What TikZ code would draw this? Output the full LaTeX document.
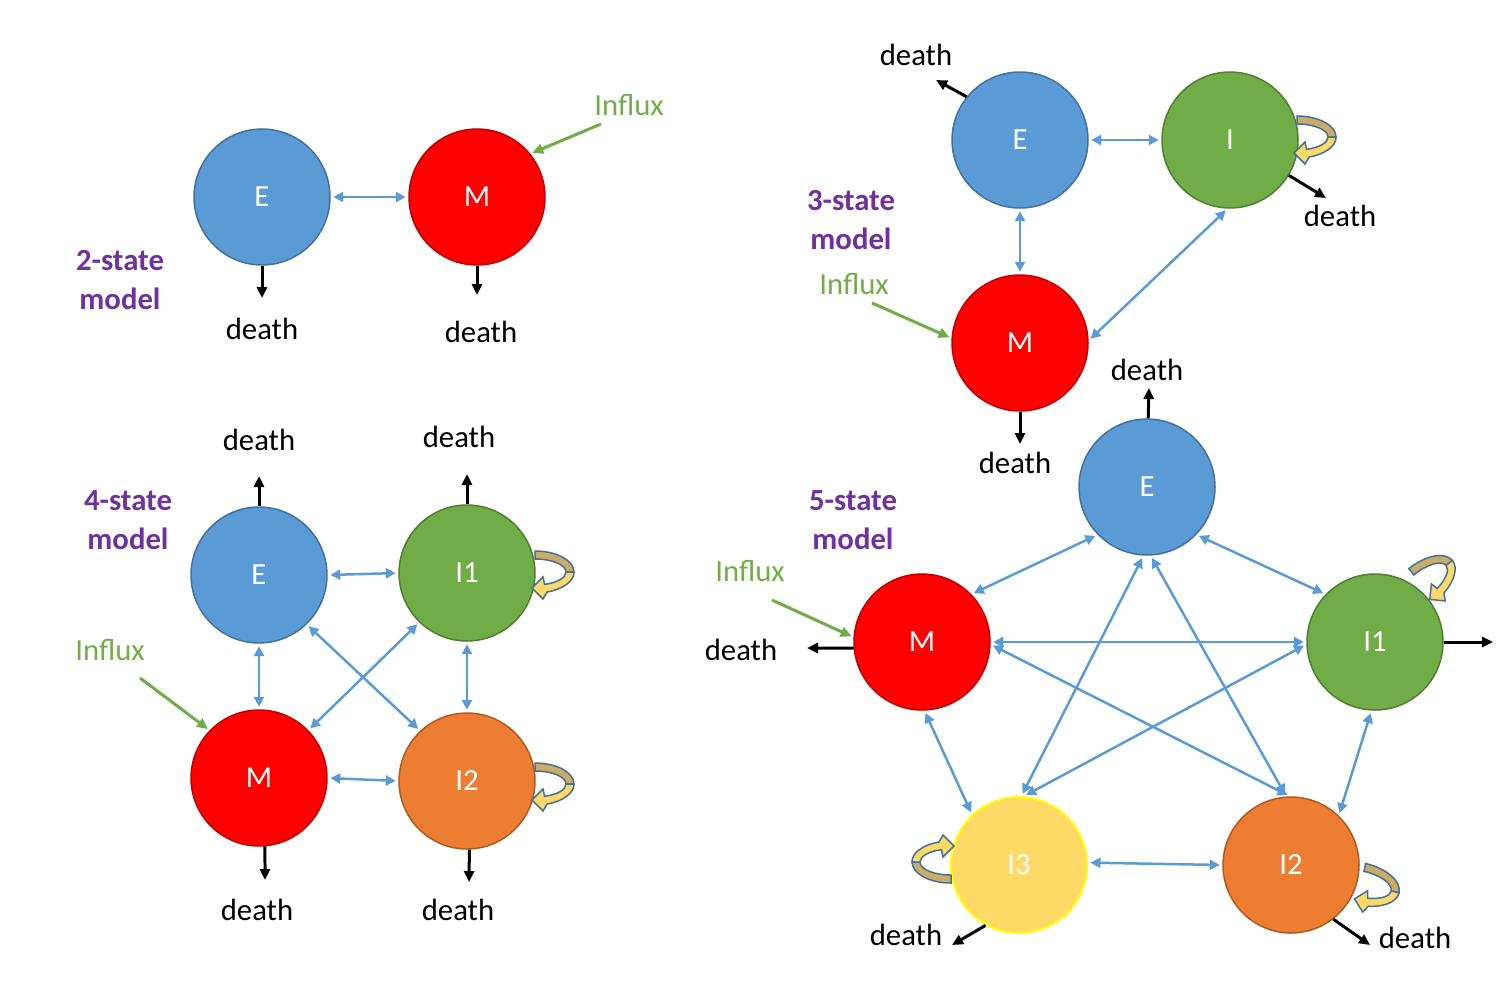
\documentclass[tikz,border=0pt]{standalone}
\usepackage{fontspec}
\setmainfont{Carlito}
\usepackage{tikz}
\usetikzlibrary{arrows.meta,positioning}

\definecolor{eblue}{HTML}{5B9BD5}
\definecolor{eblueline}{HTML}{41719C}
\definecolor{mred}{HTML}{FF0000}
\definecolor{mredline}{HTML}{C00000}
\definecolor{igreen}{HTML}{70AD47}
\definecolor{igreenline}{HTML}{507E32}
\definecolor{iorange}{HTML}{ED7D31}
\definecolor{iorangeline}{HTML}{AE5A21}
\definecolor{iyellow}{HTML}{FFD966}
\definecolor{iyellowline}{HTML}{FFFF00}
\definecolor{modelpurple}{HTML}{7030A0}
\definecolor{looptan}{HTML}{CCAB66}

\tikzset{
  state/.style={circle, minimum size=2.72cm, inner sep=0pt, line width=0.03cm, text=white, font=\fontsize{17.5pt}{22pt}\selectfont},
  txt/.style={font=\fontsize{17.5pt}{22pt}\selectfont, inner sep=0pt},
  modeltxt/.style={txt, font=\fontsize{17.5pt}{22pt}\selectfont\bfseries, text=modelpurple, align=center},
  twoway/.style={{Triangle[length=0.2cm,width=0.2cm]}-{Triangle[length=0.2cm,width=0.2cm]}, eblue, line width=0.05cm, shorten <=0.05cm, shorten >=0.05cm},
  dies/.style={-{Triangle[length=0.22cm,width=0.2cm]}, black, line width=0.06cm},
  inflow/.style={-{Triangle[length=0.22cm,width=0.2cm]}, igreen, line width=0.06cm, shorten >=0.04cm}
}

\newcommand{\turnarrow}[2]{%
  \begin{scope}[shift={(#1)}, rotate=#2, eblueline, line width=0.03cm]
    \filldraw[fill=looptan] (0,-13) arc[start angle=-90, end angle=0, x radius=31, y radius=13]
      -- (39,0) arc[start angle=0, end angle=-90, x radius=39, y radius=21] -- cycle;
    \filldraw[fill=iyellow] (31,0) arc[start angle=0, end angle=72, x radius=31, y radius=13]
      -- (8,5) -- (-3,16) -- (8,27) -- (12.1,20) arc[start angle=72, end angle=0, x radius=39, y radius=21] -- cycle;
  \end{scope}}

\begin{document}
\begin{tikzpicture}[x=0.02cm, y=-0.02cm]
  \useasboundingbox (0,0) rectangle (1506,998);

  \node[state, fill=eblue, draw=eblueline] (tE) at (262,197) {E};
  \node[state, fill=mred, draw=mredline] (tM) at (477,197) {M};
  \draw[twoway] (tE.0) -- (tM.180);
  \coordinate (tEd) at (262,298);
  \coordinate (tMd) at (477,295);
  \draw[dies] (tE.270) -- (tEd);
  \draw[dies] (tM.270) -- (tMd);
  \node[txt] (tEdl) at (262,329) {death};
  \node[txt] (tMdl) at (481,332) {death};
  \node[txt, text=igreen] (tIn) at (629,105) {Influx};
  \coordinate (tInS) at (601,124);
  \draw[inflow] (tInS) -- (tM.39);
  \node[modeltxt] (tLab) at (120,280) {2-state\\model};

  \node[state, fill=eblue, draw=eblueline] (hE) at (1020,140) {E};
  \node[state, fill=igreen, draw=igreenline] (hI) at (1230,140) {I};
  \node[state, fill=mred, draw=mredline] (hM) at (1020,343) {M};
  \draw[twoway] (hE.0) -- (hI.180);
  \draw[twoway] (hE.270) -- (hM.90);
  \draw[twoway] (hM.2) -- (hI.268);
  \turnarrow{1297,137}{0}
  \coordinate (hEd) at (936,80);
  \coordinate (hId) at (1326,198);
  \coordinate (hMd) at (1020,444);
  \draw[dies] (hE.141) -- (hEd);
  \draw[dies] (hI.329) -- (hId);
  \draw[dies] (hM.270) -- (hMd);
  \node[txt] (hEdl) at (916,55) {death};
  \node[txt] (hIdl) at (1340,216) {death};
  \node[txt] (hMdl) at (1015,463) {death};
  \node[txt, text=igreen] (hIn) at (854,284) {Influx};
  \coordinate (hInS) at (872,303);
  \draw[inflow] (hInS) -- (hM.176);
  \node[modeltxt] (hLab) at (851,220) {3-state\\model};

  \node[state, fill=eblue, draw=eblueline] (fE) at (259,575) {E};
  \node[state, fill=igreen, draw=igreenline] (fI1) at (467,573) {I1};
  \node[state, fill=mred, draw=mredline] (fM) at (259,778) {M};
  \node[state, fill=iorange, draw=iorangeline] (fI2) at (467,781) {I2};
  \draw[twoway] (fE.0) -- (fI1.180);
  \draw[twoway] (fM.0) -- (fI2.180);
  \draw[twoway] (fE.270) -- (fM.90);
  \draw[twoway] (fI1.270) -- (fI2.90);
  \draw[twoway] (fE.314) -- (fI2.133);
  \draw[twoway] (fI1.226) -- (fM.44);
  \turnarrow{535,572}{0}
  \turnarrow{535,784}{0}
  \coordinate (fEd) at (259,476);
  \coordinate (fI1d) at (467,474);
  \coordinate (fMd) at (265,880);
  \coordinate (fI2d) at (469,882);
  \draw[dies] (fE.90) -- (fEd);
  \draw[dies] (fI1.90) -- (fI1d);
  \draw[dies] (fM.275) -- (fMd);
  \draw[dies] (fI2.272) -- (fI2d);
  \node[txt] (fEdl) at (259,440) {death};
  \node[txt] (fI1dl) at (459,437) {death};
  \node[txt] (fMdl) at (257,910) {death};
  \node[txt] (fI2dl) at (458,910) {death};
  \node[txt, text=igreen] (fIn) at (110,650) {Influx};
  \coordinate (fInS) at (140,678);
  \draw[inflow] (fInS) -- (fM.136);
  \node[modeltxt] (fLab) at (128,520) {4-state\\model};

  \node[state, fill=eblue, draw=eblueline] (vE) at (1147,487) {E};
  \node[state, fill=mred, draw=mredline] (vM) at (922,642) {M};
  \node[state, fill=igreen, draw=igreenline] (vI1) at (1375,642) {I1};
  \node[state, fill=iyellow, draw=iyellowline, line width=0.04cm] (vI3) at (1019,865) {I3};
  \node[state, fill=iorange, draw=iorangeline] (vI2) at (1291,865) {I2};
  \draw[twoway] (vE.224) -- (vM.44);
  \draw[twoway] (vE.316) -- (vI1.136);
  \draw[twoway] (vE.267) -- (vI3.88);
  \draw[twoway] (vE.273) -- (vI2.94);
  \draw[twoway] (vM.0) -- (vI1.180);
  \draw[twoway] (vM.358) -- (vI2.91);
  \draw[twoway] (vM.272) -- (vI3.133);
  \draw[twoway] (vI1.182) -- (vI3.86);
  \draw[twoway] (vI1.267) -- (vI2.46);
  \draw[twoway] (vI3.2) -- (vI2.180);
  \turnarrow{1422,585}{39}
  \turnarrow{951,862}{180}
  \turnarrow{1361,884}{-13}
  \coordinate (vEd) at (1149,388);
  \coordinate (vMd) at (807,648);
  \coordinate (vI1d) at (1493,642);
  \coordinate (vI3d) at (952,945);
  \coordinate (vI2d) at (1370,945);
  \draw[dies] (vE.89) -- (vEd);
  \draw[dies] (vM.185) -- (vMd);
  \draw[dies] (vI1.0) -- (vI1d);
  \draw[dies] (vI3.241) -- (vI3d);
  \draw[dies] (vI2.308) -- (vI2d);
  \node[txt] (vEdl) at (1147,370) {death};
  \node[txt] (vMdl) at (741,650) {death};
  \node[txt] (vI3dl) at (906,935) {death};
  \node[txt] (vI2dl) at (1415,938) {death};
  \node[txt, text=igreen] (vIn) at (750,571) {Influx};
  \coordinate (vInS) at (772,600);
  \draw[inflow] (vInS) -- (vM.176);
  \node[modeltxt] (vLab) at (853,520) {5-state\\model};
\end{tikzpicture}
\end{document}
